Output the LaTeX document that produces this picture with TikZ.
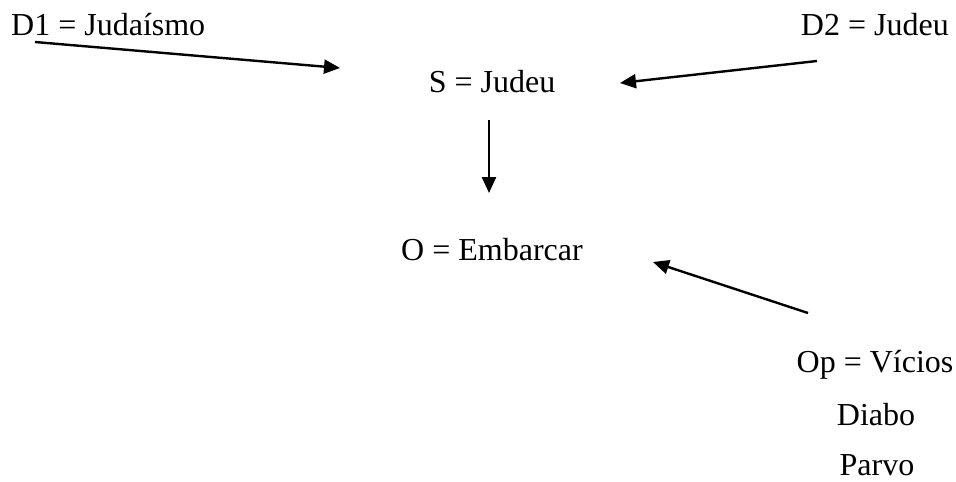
\documentclass[tikz,border=0pt]{standalone}
\usepackage{fontspec}
\setmainfont{Liberation Serif}
\usetikzlibrary{arrows.meta}
\begin{document}
\begin{tikzpicture}[x=1pt,y=-1pt,
  lbl/.style={inner sep=0pt,font=\fontsize{32}{38}\selectfont},
  arr/.style={line width=2.4pt,-{Triangle[length=16pt,width=14pt]}}]
\useasboundingbox (0,0) rectangle (956,482);
\node[lbl,anchor=base west] (d1) at (11,35) {D1 = Judaísmo};
\node[lbl,anchor=base east] (d2) at (949,35) {D2 = Judeu};
\node[lbl,anchor=base] (s) at (492,92) {S = Judeu};
\node[lbl,anchor=base] (o) at (492,260) {O = Embarcar};
\node[lbl,anchor=base] (op) at (875,372) {Op = Vícios};
\node[lbl,anchor=base] (diabo) at (876,425) {Diabo};
\node[lbl,anchor=base] (parvo) at (877,475) {Parvo};
\coordinate (d1s) at (35,42);
\coordinate (d1e) at (340,68);
\coordinate (d2s) at (817,61);
\coordinate (d2e) at (620,83);
\coordinate (ss) at (489,120);
\coordinate (se) at (489,193);
\coordinate (ops) at (808,313);
\coordinate (ope) at (653,262);
\draw[arr] (d1s) -- (d1e);
\draw[arr] (d2s) -- (d2e);
\draw[arr] (ss) -- (se);
\draw[arr] (ops) -- (ope);
\end{tikzpicture}
\end{document}
